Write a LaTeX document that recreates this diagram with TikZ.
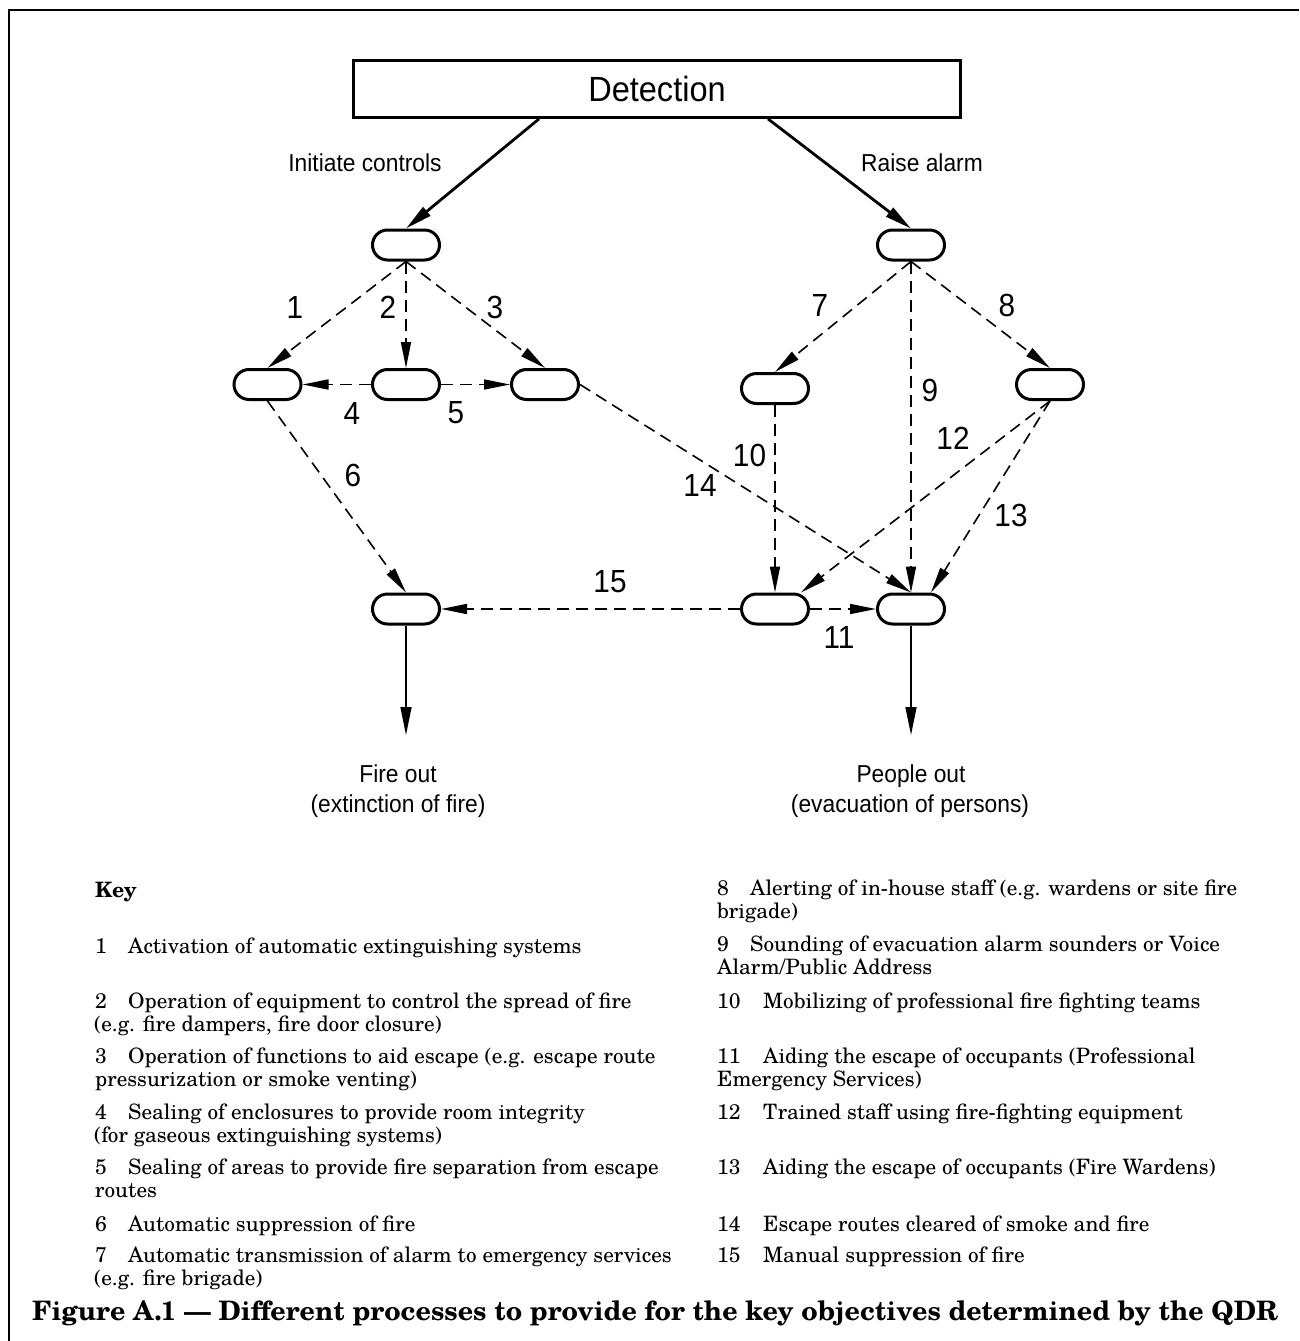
\documentclass[tikz,border=0pt]{standalone}
\usepackage{fontspec}
\usetikzlibrary{arrows.meta,calc}
\newfontfamily\isofont[FakeStretch=0.93]{Liberation Sans}
\newfontfamily\keyfont{TeX Gyre Schola}
\tikzset{
  pill/.style={draw, line width=3pt, rounded corners=15pt, minimum width=67pt, minimum height=30pt, inner sep=0pt},
  thickarr/.style={line width=2.8pt, -{Triangle[length=27pt,width=11pt]}},
  darr/.style={line width=1.6pt, dash pattern=on 12pt off 7pt, -{Triangle[length=26pt,width=10pt]}},
  sarr/.style={line width=1.5pt, -{Triangle[length=28pt,width=11pt]}},
  numlab/.style={inner sep=0pt, font=\isofont\fontsize{32}{36}\selectfont},
  isotxt/.style={inner sep=0pt, anchor=base, font=\isofont\fontsize{24.5}{30}\selectfont},
  keytxt/.style={inner sep=0pt, anchor=base west, font=\keyfont\fontsize{21.2}{24}\selectfont},
  framelines/.style={line width=2pt}
}
\begin{document}
\begin{tikzpicture}[x=1pt,y=-1pt]
\useasboundingbox (0,0) rectangle (1299,1341);
\draw[framelines] (9,1341) -- (9,10) -- (1299,10);

% Detection box
\node[draw, line width=2.8pt, minimum width=607pt, minimum height=57pt, inner sep=0pt,
      font=\isofont\fontsize{35}{40}\selectfont] (det) at (657,89) {Detection};
\coordinate (dl) at ([xshift=-118pt]det.south);
\coordinate (dr) at ([xshift=111pt]det.south);

% process nodes
\node[pill] (c0) at (406,245) {};
\node[pill] (c4) at (911,245) {};
\node[pill] (c1) at (267.5,384.5) {};
\node[pill] (c2) at (406,384.5) {};
\node[pill] (c3) at (545,384.5) {};
\node[pill] (c5) at (775,388.5) {};
\node[pill] (c6) at (1050,384.5) {};
\node[pill] (c9) at (406,609) {};
\node[pill] (c7) at (775,609) {};
\node[pill] (c8) at (911,609) {};
\coordinate (o1) at (406,735);
\coordinate (o2) at (911,735);

% thick arrows
\draw[thickarr] (dl) -- (c0.north);
\draw[thickarr] (dr) -- (c4.north);
\node[isotxt] (tic) at (365,171) {Initiate controls};
\node[isotxt] (tra) at (922,171) {Raise alarm};

% dashed arrows
\draw[darr] (c0.south) -- (c1.north);
\draw[darr] (c0.south) -- (c2.north);
\draw[darr] (c0.south) -- (c3.north);
\draw[darr] (c2.west) -- (c1.east);
\draw[darr] (c2.east) -- (c3.west);
\draw[darr] (c1.south) -- (c9.north);
\draw[darr] (c3.east) -- (c8.north);
\draw[darr] (c4.south) -- (c5.north);
\draw[darr] (c4.south) -- (c8.north);
\draw[darr] (c4.south) -- (c6.north);
\draw[darr] (c5.south) -- (c7.north);
\draw[darr] (c6.south) -- ([xshift=26pt]c7.north);
\draw[darr] (c6.south) -- ([xshift=20pt]c8.north);
\draw[darr] (c7.east) -- (c8.west);
\draw[darr] (c7.west) -- (c9.east);

% solid outputs
\draw[sarr] (c9.south) -- (o1);
\draw[sarr] (c8.south) -- (o2);
\node[isotxt] (fo1) at (398,782) {Fire out};
\node[isotxt] (fo2) at (398,812) {(extinction of fire)};
\node[isotxt] (po1) at (911,782) {People out};
\node[isotxt] (po2) at (910,812) {(evacuation of persons)};

% numbers
\node[numlab] (n1) at (295,307) {1};
\node[numlab] (n2) at (388,307) {2};
\node[numlab] (n3) at (495,307) {3};
\node[numlab] (n4) at (352,413) {4};
\node[numlab] (n5) at (456,413) {5};
\node[numlab] (n6) at (353,475) {6};
\node[numlab] (n7) at (820,305) {7};
\node[numlab] (n8) at (1007,305) {8};
\node[numlab] (n9) at (930,390) {9};
\node[numlab] (n10) at (749.5,455) {10};
\node[numlab] (n11) at (839,637) {11};
\node[numlab] (n12) at (953,438) {12};
\node[numlab] (n13) at (1011,515) {13};
\node[numlab] (n14) at (700,485) {14};
\node[numlab] (n15) at (610,582) {15};

% key, left column
\node[keytxt, font=\keyfont\bfseries\fontsize{21.2}{24}\selectfont] (key) at (95,897) {Key};
\node[keytxt] (k1n) at (95,953) {1};
\node[keytxt] (k1a) at (128,953) {Activation of automatic extinguishing systems};
\node[keytxt] (k2n) at (95,1008) {2};
\node[keytxt] (k2a) at (128,1008) {Operation of equipment to control the spread of fire};
\node[keytxt] (k2b) at (94,1031) {(e.g. fire dampers, fire door closure)};
\node[keytxt] (k3n) at (95,1063) {3};
\node[keytxt] (k3a) at (128,1063) {Operation of functions to aid escape (e.g. escape route};
\node[keytxt] (k3b) at (95,1086.5) {pressurization or smoke venting)};
\node[keytxt] (k4n) at (95,1119) {4};
\node[keytxt] (k4a) at (128,1119) {Sealing of enclosures to provide room integrity};
\node[keytxt] (k4b) at (94,1142.5) {(for gaseous extinguishing systems)};
\node[keytxt] (k5n) at (95,1174) {5};
\node[keytxt] (k5a) at (128,1174) {Sealing of areas to provide fire separation from escape};
\node[keytxt] (k5b) at (95,1197.5) {routes};
\node[keytxt] (k6n) at (95,1231) {6};
\node[keytxt] (k6a) at (128,1231) {Automatic suppression of fire};
\node[keytxt] (k7n) at (95,1262) {7};
\node[keytxt] (k7a) at (128,1262) {Automatic transmission of alarm to emergency services};
\node[keytxt] (k7b) at (94,1285.5) {(e.g. fire brigade)};

% key, right column
\node[keytxt] (k8n) at (717,895) {8};
\node[keytxt] (k8a) at (750,895) {Alerting of in-house staff (e.g. wardens or site fire};
\node[keytxt] (k8b) at (717,918.5) {brigade)};
\node[keytxt] (k9n) at (717,951) {9};
\node[keytxt] (k9a) at (750,951) {Sounding of evacuation alarm sounders or Voice};
\node[keytxt] (k9b) at (717,974.5) {Alarm/Public Address};
\node[keytxt] (k10n) at (717,1008) {10};
\node[keytxt] (k10a) at (763,1008) {Mobilizing of professional fire fighting teams};
\node[keytxt] (k11n) at (717,1063) {11};
\node[keytxt] (k11a) at (763,1063) {Aiding the escape of occupants (Professional};
\node[keytxt] (k11b) at (717,1086.5) {Emergency Services)};
\node[keytxt] (k12n) at (717,1119) {12};
\node[keytxt] (k12a) at (763,1119) {Trained staff using fire-fighting equipment};
\node[keytxt] (k13n) at (717,1174) {13};
\node[keytxt] (k13a) at (763,1174) {Aiding the escape of occupants (Fire Wardens)};
\node[keytxt] (k14n) at (717,1231) {14};
\node[keytxt] (k14a) at (763,1231) {Escape routes cleared of smoke and fire};
\node[keytxt] (k15n) at (717,1262) {15};
\node[keytxt] (k15a) at (763,1262) {Manual suppression of fire};

% caption
\node[inner sep=0pt, anchor=base, font=\keyfont\bfseries\fontsize{26.8}{30}\selectfont] (cap) at (655,1320)
  {Figure A.1 — Different processes to provide for the key objectives determined by the QDR};
\end{tikzpicture}
\end{document}
